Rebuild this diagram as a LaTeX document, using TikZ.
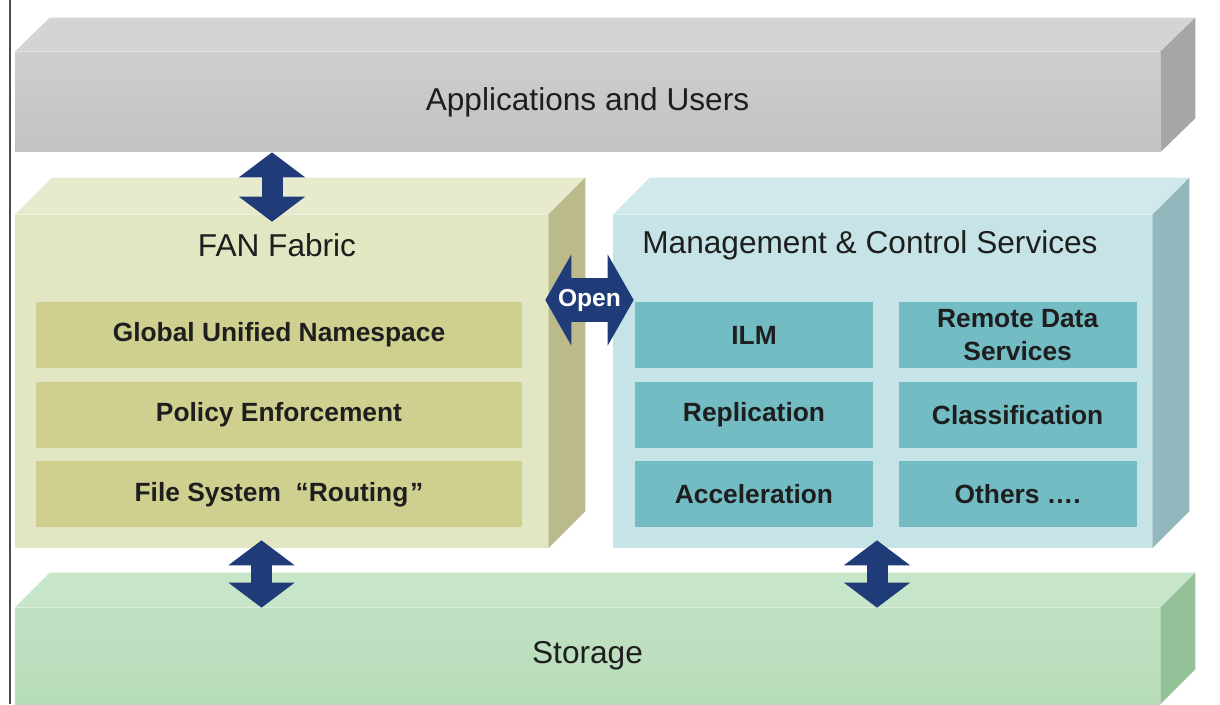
\documentclass[tikz,border=0pt]{standalone}
\usepackage{fontspec}
\setmainfont{Liberation Sans}
\usetikzlibrary{arrows.meta}
\usetikzlibrary{positioning}

\definecolor{appfront}{HTML}{C2C2C4}
\definecolor{apptop}{HTML}{D4D4D5}
\definecolor{appside}{HTML}{A6A6A8}
\definecolor{fanfront}{HTML}{E2E6C2}
\definecolor{fantop}{HTML}{E8EACD}
\definecolor{fanside}{HTML}{BABA8B}
\definecolor{fancell}{HTML}{CFD08F}
\definecolor{mgmtfront}{HTML}{C6E4E7}
\definecolor{mgmttop}{HTML}{D0E9EB}
\definecolor{mgmtside}{HTML}{92B8BD}
\definecolor{mgmtcell}{HTML}{73BCC4}
\definecolor{storfront}{HTML}{B7DCB9}
\definecolor{stortop}{HTML}{C7E5C8}
\definecolor{storside}{HTML}{94C197}
\definecolor{navy}{HTML}{1F3B78}
\definecolor{ink}{HTML}{1E1E1E}

\tikzset{
    slab/.style={inner sep=0pt, text=ink, font=\fontsize{18}{22}\selectfont},
    heading/.style={inner sep=0pt, text=ink, font=\fontsize{18}{22}\selectfont},
    cell/.style={inner sep=0pt, minimum height=1.32cm, text=ink, align=center,
        font=\fontsize{15}{19}\selectfont\bfseries},
    updown/.style={draw=navy, line width=0.42cm,
        {Triangle[width=1.3cm,length=0.5cm]}-{Triangle[width=1.3cm,length=0.5cm]}},
    openarrow/.style={draw=navy, line width=0.88cm,
        {Triangle[width=1.8cm,length=0.52cm]}-{Triangle[width=1.8cm,length=0.52cm]}},
}

\begin{document}
\begin{tikzpicture}[x=0.02cm, y=-0.02cm]
                    \useasboundingbox[fill=white] (0,0) rectangle (1220,704);
                    \draw[ink!80, line width=0.04cm] (10,0) -- (10,704);

                    % applications
                    \node[slab, minimum width=22.9cm, minimum height=2cm,
                        top color=appfront!80!white, bottom color=appfront] (apps) at (587.5,102) {Applications and Users};
                    \fill[apptop] (apps.north west) -- ++(35,-34) -- ([shift={(35,-34)}]apps.north east) -- (apps.north east) -- cycle;
                    \fill[appside] (apps.north east) -- ++(35,-34) -- ([shift={(35,-34)}]apps.south east) -- (apps.south east) -- cycle;

                    % fan fabric
                    \node[minimum width=10.66cm, minimum height=6.66cm, fill=fanfront, inner sep=0pt] (fan) at (281.5,381.5) {};
                    \fill[fantop] (fan.north west) -- ++(37,-37) -- ([shift={(37,-37)}]fan.north east) -- (fan.north east) -- cycle;
                    \fill[fanside] (fan.north east) -- ++(37,-37) -- ([shift={(37,-37)}]fan.south east) -- (fan.south east) -- cycle;
                    \node[heading] (fantitle) at (277,245) {FAN Fabric};
                    \node[cell, minimum width=9.72cm, fill=fancell] (gun) at (279,335) {Global Unified Namespace};
                    \node[cell, minimum width=9.72cm, fill=fancell, below=0.26cm of gun] (policy) {Policy Enforcement};
                    \node[cell, minimum width=9.72cm, fill=fancell, below=0.26cm of policy] (routing) {File System \ ``Routing{\kern1pt}''};

                    % management and control
                    \node[minimum width=10.78cm, minimum height=6.66cm, fill=mgmtfront, inner sep=0pt] (mgmt) at (882.5,381.5) {};
                    \fill[mgmttop] (mgmt.north west) -- ++(37,-37) -- ([shift={(37,-37)}]mgmt.north east) -- (mgmt.north east) -- cycle;
                    \fill[mgmtside] (mgmt.north east) -- ++(37,-37) -- ([shift={(37,-37)}]mgmt.south east) -- (mgmt.south east) -- cycle;
                    \node[heading] (mgmttitle) at (870,245) {Management \& Control Services};
                    \node[cell, minimum width=4.76cm, fill=mgmtcell] (ilm) at (754,335) {ILM};
                    \node[cell, minimum width=4.76cm, fill=mgmtcell, below=0.26cm of ilm] (repl) {Replication};
                    \node[cell, minimum width=4.76cm, fill=mgmtcell, below=0.26cm of repl] (accel) {Acceleration};
                    \node[cell, minimum width=4.76cm, fill=mgmtcell, right=0.5cm of ilm] (remote) {Remote Data\\Services};
                    \node[cell, minimum width=4.76cm, fill=mgmtcell, right=0.5cm of repl] (classif) {Classification};
                    \node[cell, minimum width=4.76cm, fill=mgmtcell, right=0.5cm of accel] (others) {Others \dots.};

                    % storage
                    \node[slab, minimum width=22.9cm, minimum height=1.92cm,
                        top color=storfront!85!white, bottom color=storfront] (stor) at (587.5,656) {Storage};
                    \fill[stortop] (stor.north west) -- ++(35,-35) -- ([shift={(35,-35)}]stor.north east) -- (stor.north east) -- cycle;
                    \fill[storside] (stor.north east) -- ++(35,-35) -- ([shift={(35,-35)}]stor.south east) -- (stor.south east) -- cycle;

                    % arrows
                    \draw[updown] ([xshift=-0.19cm]fan.north |- apps.south) -- ([xshift=-0.19cm,yshift=-0.14cm]fan.north);
                    \draw[updown] ([xshift=-0.4cm,yshift=0.16cm]fan.south) -- ([xshift=-0.4cm]fan.south |- stor.north);
                    \draw[updown] ([xshift=-0.11cm,yshift=0.16cm]mgmt.south) -- ([xshift=-0.11cm]mgmt.south |- stor.north);
                    \draw[openarrow] ([shift={(-0.06cm,1.63cm)}]fan.east) -- ([shift={(0.42cm,1.63cm)}]mgmt.west)
                        node[midway, text=white, inner sep=0pt, font=\fontsize{14}{16}\selectfont\bfseries] (openlbl) {Open};
\end{tikzpicture}
\end{document}
